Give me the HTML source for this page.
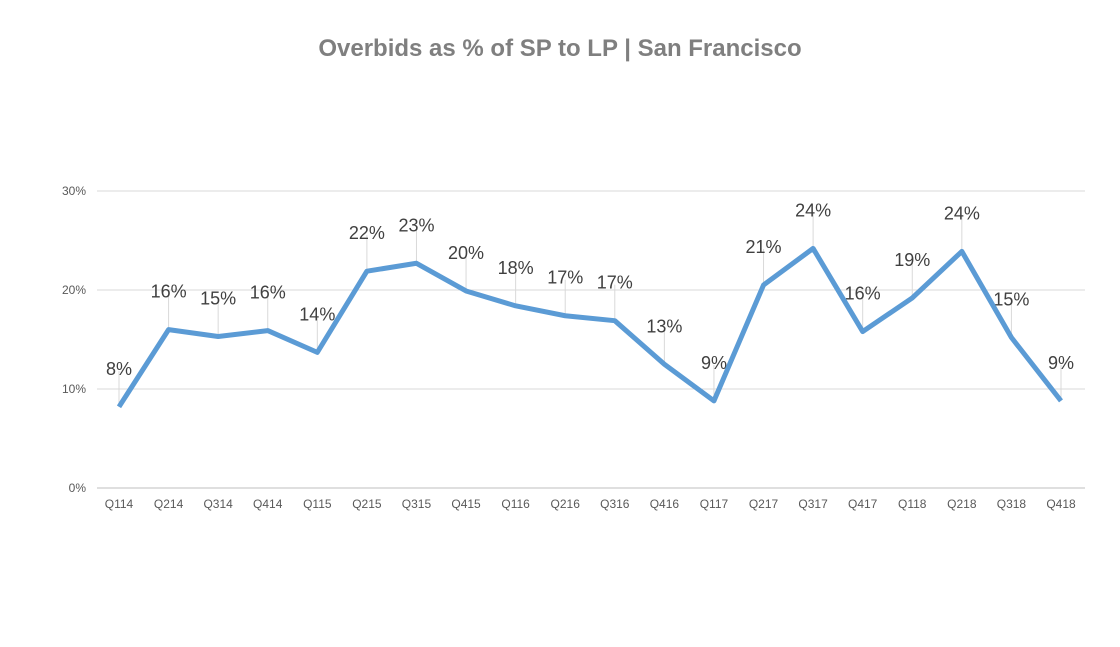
<!DOCTYPE html>
<html><head><meta charset="utf-8"><style>
body{margin:0;background:#fff;}
svg{display:block;font-family:"Liberation Sans",sans-serif;}
</style></head><body>
<svg id="chart" width="1120" height="647">
<text x="560" y="56" text-anchor="middle" font-size="24" font-weight="bold" fill="#7f7f7f">Overbids as % of SP to LP | San Francisco</text>
<g id="grid"></g><g id="labels"></g><g id="series"></g>
</svg>
<script>
const categories=["Q114","Q214","Q314","Q414","Q115","Q215","Q315","Q415","Q116","Q216","Q316","Q416","Q117","Q217","Q317","Q417","Q118","Q218","Q318","Q418"];
const values=[8.2,16.0,15.3,15.9,13.7,21.9,22.7,19.9,18.4,17.4,16.9,12.5,8.8,20.5,24.2,15.8,19.2,23.9,15.2,8.8];
const yTicks=[0,10,20,30];
const ns="http://www.w3.org/2000/svg";
const x=i=>119+i*(1061-119)/(categories.length-1);
const y=v=>488-v*9.9;
function mk(t,a,p){const e=document.createElementNS(ns,t);for(const k in a)e.setAttribute(k,a[k]);p.appendChild(e);return e;}
const grid=document.getElementById('grid'),lab=document.getElementById('labels'),ser=document.getElementById('series');
yTicks.forEach(t=>{
 const l=mk('line',{x1:97,x2:1085,y1:y(t),y2:y(t),stroke:t===0?'#bfbfbf':'#d9d9d9','stroke-width':1},grid);
 
 
 const tx=mk('text',{x:86,y:y(t)+4,'text-anchor':'end','font-size':12,fill:'#595959'},grid);
 tx.textContent=t+'%';
 
 
});
categories.forEach((c,i)=>{
 const tx=mk('text',{x:x(i),y:508,'text-anchor':'middle','font-size':12,fill:'#595959'},grid);
 tx.textContent=c;
 
 
 const ln=mk('line',{x1:x(i),x2:x(i),y1:y(values[i])-36,y2:y(values[i]),stroke:'#d9d9d9','stroke-width':1},lab);
 
 
 const dl=mk('text',{x:x(i),y:y(values[i])-32,'text-anchor':'middle','font-size':18,fill:'#404040'},lab);
 dl.textContent=Math.round(values[i])+'%';
 
 
});
const p=mk('polyline',{points:values.map((v,i)=>x(i)+','+y(v)).join(' '),fill:'none',stroke:'#5b9bd5','stroke-width':5,'stroke-linejoin':'round'},ser);


</script>
</body></html>
